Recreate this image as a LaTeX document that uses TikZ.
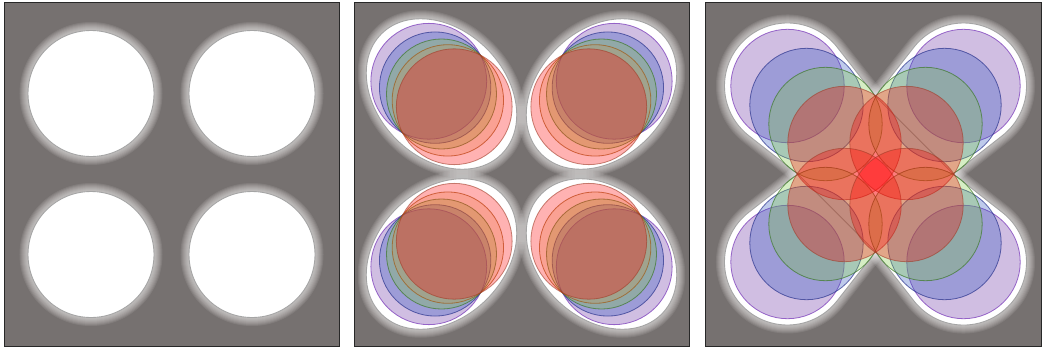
\documentclass[tikz,border=0pt]{standalone}
\definecolor{bg}{RGB}{118,113,112}
\definecolor{cpurple}{RGB}{100,40,160}
\definecolor{cblue}{RGB}{40,80,190}
\definecolor{cgreen}{RGB}{120,200,60}
\definecolor{corange}{RGB}{220,140,40}
\definecolor{cred}{RGB}{255,0,0}
\definecolor{dpurple}{RGB}{130,70,190}
\definecolor{dblue}{RGB}{40,50,140}
\definecolor{dgreen}{RGB}{60,120,40}
\definecolor{dorange}{RGB}{160,90,20}
\definecolor{dred}{RGB}{160,60,40}
\definecolor{holeedge}{RGB}{165,165,165}
\definecolor{frameline}{RGB}{40,40,40}
\begin{document}
\begin{tikzpicture}[x=1pt,y=-1pt,
  panel/.style={fill=bg,draw=frameline,line width=1pt},
  glowy/.style={
    preaction={draw=white,draw opacity=0.09,line width=17pt},
    preaction={draw=white,draw opacity=0.09,line width=15pt},
    preaction={draw=white,draw opacity=0.09,line width=13pt},
    preaction={draw=white,draw opacity=0.09,line width=11pt},
    preaction={draw=white,draw opacity=0.09,line width=9pt},
    preaction={draw=white,draw opacity=0.09,line width=7pt},
    preaction={draw=white,draw opacity=0.09,line width=5pt},
    preaction={draw=white,draw opacity=0.09,line width=3pt}},
  hole/.style={glowy,fill=white,draw=holeedge,line width=0.9pt},
  pcirc/.style={fill=cpurple,fill opacity=0.3,draw=dpurple,draw opacity=0.8,line width=0.8pt},
  bcirc/.style={fill=cblue,fill opacity=0.3,draw=dblue,draw opacity=0.7,line width=0.8pt},
  gcirc/.style={fill=cgreen,fill opacity=0.3,draw=dgreen,draw opacity=0.7,line width=0.8pt},
  ocirc/.style={fill=corange,fill opacity=0.2,draw=dorange,draw opacity=0.7,line width=0.8pt},
  rcirc/.style={fill=cred,fill opacity=0.3,draw=dred,draw opacity=0.6,line width=0.8pt}]
\useasboundingbox (0,0) rectangle (1044,349);

% ---------- panel 1 ----------
\draw[panel] (4,2) rectangle (339,346);
\foreach \cx in {91,252}
  \foreach \cy in {93.5,254.5}
    \path[hole] (\cx,\cy) circle (63pt);

% ---------- panel 2 ----------
\draw[panel] (354,2) rectangle (689,346);
\foreach \cx/\cy/\ang in {441.5/94/-45, 601.5/94/-135, 441.5/254/45, 601.5/254/135}{
  \begin{scope}[shift={(\cx,\cy)},rotate=\ang]
    \path[hole] (0pt,0pt) ellipse (85pt and 64pt);
    \path[pcirc] (-18pt,0pt) circle (57.9pt);
    \path[bcirc] (-9pt,0pt) circle (55.7pt);
    \path[gcirc] (0pt,0pt) circle (55pt);
    \path[ocirc] (9pt,0pt) circle (55.7pt);
    \path[rcirc] (18pt,0pt) circle (57.9pt);
  \end{scope}}

% ---------- panel 3 ----------
\draw[panel] (705,2) rectangle (1041,346);
\begin{scope}[shift={(875.5,174)}]
  \foreach \ang in {45,-45}{
    \path[hole,rotate=\ang] (55pt,55pt) -- (116.8pt,62.5pt)
      arc[start angle=97,end angle=-97,radius=63pt]
      -- (55pt,-55pt) -- (-55pt,-55pt) -- (-116.8pt,-62.5pt)
      arc[start angle=-83,end angle=-277,radius=63pt]
      -- (-55pt,55pt) -- cycle;}
  \foreach \k/\st in {88/pcirc,69/bcirc,50/gcirc,31/rcirc}
    \foreach \sx/\sy in {-1/-1,1/-1,-1/1,1/1}
      \path[\st] ({\sx*\k},{\sy*\k}) circle (56.7pt);
\end{scope}
\end{tikzpicture}
\end{document}
